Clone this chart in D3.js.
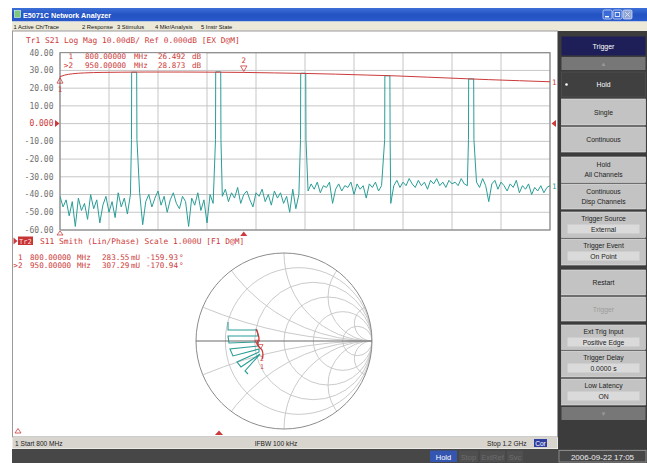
<!DOCTYPE html>
<html>
<head>
<meta charset="utf-8">
<script src="https://cdn.jsdelivr.net/npm/d3@7"></script>
<style>
  body { margin: 0; background: #fff; }
  svg { display: block; }
  .mono { font-family: "DejaVu Sans Mono", "Liberation Mono", monospace; }
  .ui { font-family: "Liberation Sans", "DejaVu Sans", sans-serif; }
</style>
</head>
<body>
<svg id="chart" width="647" height="463"></svg>
<script>
// ---- sweep / stimulus
const startMHz = 800;
const stopMHz = 1200;
const stepMHz = 2.5;

// ---- Tr1 (S21 log mag) axis
const yTickDb = [40, 30, 20, 10, 0, -10, -20, -30, -40, -50, -60];
const yTickLabels = ['40.00', '30.00', '20.00', '10.00', '0.000', '-10.00', '-20.00', '-30.00', '-40.00', '-50.00', '-60.00'];

// red trace
const redMHz = [800, 804, 810, 820, 835, 850, 870, 900, 930, 950, 975, 1000, 1025, 1050, 1075, 1100, 1125, 1150, 1175, 1200];
const redDb = [26.5, 27.4, 28.1, 28.6, 28.9, 29.0, 29.1, 29.1, 29.0, 28.87, 28.6, 28.3, 27.9, 27.4, 26.9, 26.2, 25.5, 24.8, 24.2, 23.6];

// teal trace: floor, one value every 2.5 MHz from 800 MHz
const noiseDb = [
  -41, -47, -43, -52, -44, -58, -42, -49, -45, -54, -40, -48, -43, -56, -46, -41, -50, -44, -53, -39, -47, -42, -51, -40,
  -44, -43, -39, -57, -44, -40, -47, -42, -38, -46, -41, -50, -43, -39, -45, -48, -41, -44, -58, -42, -46, -39, -49, -43, -56, -40, -45,
  -42, -41, -41, -37, -44, -39, -42, -36, -45, -40, -38, -43, -47, -39, -41, -37, -44, -40, -46, -38, -42, -39, -45, -41, -50, -37, -48, -40,
  -39, -38, -38, -34, -37, -33, -39, -35, -36, -33, -45, -37, -34, -38, -35, -36, -33, -40, -34, -37, -35, -42, -34, -36, -33, -38, -35,
  -36, -37, -45, -35, -32, -36, -33, -35, -31, -34, -36, -32, -35, -33, -37, -32, -34, -31, -35, -33, -36, -32, -34, -33, -35, -31, -34, -35,
  -35, -37, -33, -36, -31, -35, -44, -34, -32, -37, -33, -35, -38, -34, -36, -32, -39, -35, -37, -34, -40, -36, -38, -35, -39, -36, -35
];
// narrow tones on the teal trace
const peakMHz = [860.6, 929.2, 998.6, 1067.3, 1135.7];
const peakTopDb = [29.0, 29.2, 28.4, 27.0, 25.2];
const peakShoulderDb = [-9, -9, -9, -9, -9];

// markers
const markerIds = ['1', '>2'];
const markerMHz = [800, 950];
const markerFreqText = ['800.00000', '950.00000'];
const markerS21Text = ['26.492', '28.873'];
const markerMagText = ['283.55', '307.29'];
const markerPhaseText = ['-159.93', '-170.94'];
const markerMagU = [0.28355, 0.30729];
const markerPhaseDeg = [-159.93, -170.94];

// ---- Tr2 (S11 Smith)
const smithR = [0.2, 0.5, 1, 2, 5];
const smithX = [0.2, 0.5, 1, 2, 5];
const smithTealRe = [-0.636, -0.636, -0.307, -0.295, -0.636, -0.625, -0.295, -0.295, -0.614, -0.580, -0.284, -0.284, -0.534, -0.489, -0.273, -0.443, -0.409];
const smithTealIm = [0.216, 0.125, 0.125, 0.057, 0.057, -0.023, -0.011, -0.057, -0.091, -0.170, -0.091, -0.125, -0.239, -0.295, -0.148, -0.341, -0.375];
const smithRedRe = [-0.318, -0.295, -0.284, -0.307, -0.284, -0.250, -0.239, -0.250];
const smithRedIm = [0.136, 0.080, 0.023, -0.023, -0.068, -0.102, -0.159, -0.205];

// ---- UI texts
const menuItems = ['1 Active Ch/Trace', '2 Response', '3 Stimulus', '4 Mkr/Analysis', '5 Instr State'];
const softkeyLabels = [['Hold'], ['Single'], ['Continuous'], ['Hold', 'All Channels'], ['Continuous', 'Disp Channels'],
  ['Trigger Source'], ['Trigger Event'], ['Restart'], ['Trigger'], ['Ext Trig Input'], ['Trigger Delay'], ['Low Latency']];
const softkeyValues = [null, null, null, null, null, 'External', 'On Point', null, null, 'Positive Edge', '0.0000 s', 'ON'];
const statusItems = ['Hold', 'Stop', 'ExtRef', 'Svc'];

const RED = '#cc3a3a';
const TEAL = '#2a9d97';

const svg = d3.select('#chart');
const defs = svg.append('defs');

// ================= window chrome
const tg = defs.append('linearGradient').attr('id', 'titleGrad')
  .attr('x1', 0).attr('x2', 0).attr('y1', 0).attr('y2', 1);
tg.append('stop').attr('offset', '0%').attr('stop-color', '#3d6fd8');
tg.append('stop').attr('offset', '50%').attr('stop-color', '#2352c2');
tg.append('stop').attr('offset', '100%').attr('stop-color', '#2a5bcc');

svg.append('rect').attr('x', 12).attr('y', 8).attr('width', 635).attr('height', 13.5).attr('fill', 'url(#titleGrad)');
svg.append('rect').attr('x', 14.5).attr('y', 10.5).attr('width', 6).attr('height', 7).attr('fill', '#7fc77a').attr('stroke', '#dfe').attr('stroke-width', 0.6);
svg.append('text').attr('class', 'ui').attr('x', 23).attr('y', 18).attr('fill', '#fff')
  .attr('font-size', 7.2).attr('font-weight', 'bold').text('E5071C Network Analyzer');
[[603, '#3a6ad8'], [613, '#3a6ad8'], [623, '#8fa6d6']].forEach(([bx, c], i) => {
  svg.append('rect').attr('x', bx).attr('y', 10).attr('width', 9).attr('height', 9).attr('rx', 1.5)
    .attr('fill', c).attr('stroke', '#e8eefc').attr('stroke-width', 0.7);
  if (i === 0) svg.append('rect').attr('x', bx + 2).attr('y', 16).attr('width', 4).attr('height', 1.4).attr('fill', '#fff');
  if (i === 1) svg.append('rect').attr('x', bx + 2.2).attr('y', 12.5).attr('width', 4.5).attr('height', 4).attr('fill', 'none').attr('stroke', '#fff').attr('stroke-width', 0.8);
  if (i === 2) svg.append('path').attr('d', `M${bx + 2.2},12.2L${bx + 6.8},16.8M${bx + 6.8},12.2L${bx + 2.2},16.8`).attr('stroke', '#dfe6f6').attr('stroke-width', 0.9);
});

// menu bar
svg.append('rect').attr('x', 12).attr('y', 21.5).attr('width', 635).attr('height', 9.5).attr('fill', '#ece9d8');
const menuX = [13.5, 82, 117, 155, 201];
svg.selectAll('.menu').data(menuItems).join('text').attr('class', 'menu ui')
  .attr('x', (d, i) => menuX[i]).attr('y', 28.8).attr('font-size', 5.8).attr('fill', '#111').text(d => d);

// measurement area, softkey panel, status bars
svg.append('rect').attr('x', 12.5).attr('y', 31).attr('width', 545).attr('height', 406).attr('fill', '#fff').attr('stroke', '#9a9a9a').attr('stroke-width', 1);
svg.append('rect').attr('x', 558).attr('y', 31).attr('width', 89).attr('height', 418).attr('fill', '#3c3c3c');
svg.append('rect').attr('x', 12.5).attr('y', 437).attr('width', 545).attr('height', 11.5).attr('fill', '#d8d5cf');
svg.append('rect').attr('x', 12).attr('y', 449).attr('width', 635).attr('height', 14).attr('fill', '#474747');

// ================= Tr1 plot
const plot = { left: 60, right: 550, top: 52.7, bottom: 230 };
const x = d3.scaleLinear().domain([startMHz, stopMHz]).range([plot.left, plot.right]);
const y = d3.scaleLinear().domain([-60, 40]).range([plot.bottom, plot.top]);

const g1 = svg.append('g');
defs.append('clipPath').attr('id', 'clip1').append('rect')
  .attr('x', plot.left).attr('y', plot.top - 1).attr('width', plot.right - plot.left).attr('height', plot.bottom - plot.top + 2);

g1.selectAll('.vgrid').data(d3.range(startMHz, stopMHz + 1, 40)).join('line').attr('class', 'vgrid')
  .attr('x1', d => x(d)).attr('x2', d => x(d)).attr('y1', plot.top).attr('y2', plot.bottom)
  .attr('stroke', '#c6c6c6').attr('stroke-width', 1);
g1.selectAll('.hgrid').data(yTickDb).join('line').attr('class', 'hgrid')
  .attr('x1', plot.left).attr('x2', plot.right).attr('y1', d => y(d)).attr('y2', d => y(d))
  .attr('stroke', '#c6c6c6').attr('stroke-width', 1);
g1.append('rect').attr('x', plot.left).attr('y', plot.top).attr('width', plot.right - plot.left)
  .attr('height', plot.bottom - plot.top).attr('fill', 'none').attr('stroke', '#8a8a8a').attr('stroke-width', 1.2);

g1.selectAll('.ylab').data(yTickDb).join('text').attr('class', 'ylab mono')
  .attr('x', 53.5).attr('y', d => y(d) + 2.8).attr('text-anchor', 'end').attr('font-size', 8)
  .attr('fill', d => (d === 0 ? RED : '#707070')).text((d, i) => yTickLabels[i]);
g1.append('path').attr('d', `M55,${y(0) - 3.5}L59.5,${y(0)}L55,${y(0) + 3.5}Z`).attr('fill', RED);
g1.append('path').attr('d', `M556,${y(0) - 3.5}L551.5,${y(0)}L556,${y(0) + 3.5}Z`).attr('fill', RED);

svg.append('text').attr('class', 'mono').attr('x', 26).attr('y', 43).attr('font-size', 7.9).attr('fill', RED)
  .text('Tr1 S21 Log Mag 10.00dB/ Ref 0.000dB [EX D@M]');

// teal trace points
const tealPts = noiseDb.map((v, i) => [startMHz + i * stepMHz, v])
  .filter(p => peakMHz.every(f => Math.abs(p[0] - f) > 2.3));
peakMHz.forEach((f, k) => {
  tealPts.push([f - 2.25, peakShoulderDb[k]], [f - 2.1, peakTopDb[k]], [f + 2.0, peakTopDb[k]], [f + 2.2, peakShoulderDb[k]]);
});
tealPts.sort((a, b) => a[0] - b[0]);

const line1 = d3.line().x(d => x(d[0])).y(d => y(d[1]));
const traces = g1.append('g').attr('clip-path', 'url(#clip1)');
traces.append('path').datum(tealPts).attr('d', line1).attr('fill', 'none').attr('stroke', TEAL).attr('stroke-width', 1);
traces.append('path').datum(redMHz.map((f, i) => [f, redDb[i]]))
  .attr('d', line1.curve(d3.curveMonotoneX)).attr('fill', 'none').attr('stroke', RED).attr('stroke-width', 1);

// marker readout
g1.append('rect').attr('x', 61).attr('y', 53.5).attr('width', 145).attr('height', 14.5).attr('fill', '#fff');
const rd1 = g1.selectAll('.rd1').data(markerIds).join('g').attr('class', 'rd1 mono')
  .attr('transform', (d, i) => `translate(0,${59.3 + i * 8.4})`).attr('fill', RED).attr('font-size', 7.6);
rd1.append('text').attr('x', 73).attr('text-anchor', 'end').text(d => d);
rd1.append('text').attr('x', 85).text((d, i) => markerFreqText[i]);
rd1.append('text').attr('x', 134).text('MHz');
rd1.append('text').attr('x', 158).text((d, i) => markerS21Text[i]);
rd1.append('text').attr('x', 192).text('dB');

// marker symbols on Tr1
const redAt = f => d3.scaleLinear().domain(redMHz).range(redDb)(f);
const m2x = x(markerMHz[1]), m2y = y(redAt(markerMHz[1]));
g1.append('path').attr('d', `M${m2x - 3.2},${m2y - 6.5}L${m2x + 3.2},${m2y - 6.5}L${m2x},${m2y - 1}Z`)
  .attr('fill', 'none').attr('stroke', RED).attr('stroke-width', 0.8);
g1.append('text').attr('class', 'mono').attr('x', m2x).attr('y', m2y - 9).attr('text-anchor', 'middle')
  .attr('font-size', 7.5).attr('fill', RED).text('2');
const m1x = x(markerMHz[0]), m1y = y(redAt(markerMHz[0]));
g1.append('path').attr('d', `M${m1x},${m1y + 1}L${m1x + 3},${m1y + 6.5}L${m1x - 3},${m1y + 6.5}Z`)
  .attr('fill', 'none').attr('stroke', RED).attr('stroke-width', 0.8);
g1.append('text').attr('class', 'mono').attr('x', m1x).attr('y', m1y + 15).attr('text-anchor', 'middle')
  .attr('font-size', 7.5).attr('fill', RED).text('1');
g1.append('text').attr('class', 'mono').attr('x', 552).attr('y', y(redDb[redDb.length - 1]) + 3)
  .attr('font-size', 7.5).attr('fill', RED).text('1');
g1.append('text').attr('class', 'mono').attr('x', 552).attr('y', y(noiseDb[noiseDb.length - 1]) + 3)
  .attr('font-size', 7.5).attr('fill', TEAL).text('1');
// stimulus markers below
g1.append('path').attr('d', `M${x(startMHz) - 3},235L${x(startMHz) + 3},235L${x(startMHz)},231Z`)
  .attr('fill', 'none').attr('stroke', RED).attr('stroke-width', 0.8);
g1.append('path').attr('d', `M${m2x - 3.5},236L${m2x + 3.5},236L${m2x},231.5Z`).attr('fill', RED);

// ================= Tr2 Smith
svg.append('path').attr('d', 'M13.5,237.5L17.5,241L13.5,244.5Z').attr('fill', RED);
svg.append('rect').attr('x', 18).attr('y', 236.5).attr('width', 15).attr('height', 8.5).attr('fill', '#c63434');
svg.append('text').attr('class', 'mono').attr('x', 19).attr('y', 243.5).attr('font-size', 7).attr('fill', '#ffdede').text('Tr2');
svg.append('text').attr('class', 'mono').attr('x', 40).attr('y', 244).attr('font-size', 7.9).attr('fill', RED)
  .text('S11 Smith (Lin/Phase) Scale 1.000U [F1 D@M]');

const rd2 = svg.selectAll('.rd2').data(markerIds).join('g').attr('class', 'rd2 mono')
  .attr('transform', (d, i) => `translate(0,${259.8 + i * 8.4})`).attr('fill', RED).attr('font-size', 7.6);
rd2.append('text').attr('x', 22.5).attr('text-anchor', 'end').text(d => d);
rd2.append('text').attr('x', 30).text((d, i) => markerFreqText[i]);
rd2.append('text').attr('x', 77).text('MHz');
rd2.append('text').attr('x', 102).text((d, i) => markerMagText[i]);
rd2.append('text').attr('x', 131).text('mU');
rd2.append('text').attr('x', 146).text((d, i) => markerPhaseText[i]);
rd2.append('text').attr('x', 179).text('°');

const sc = { cx: 284, cy: 341, r: 88 };
const sx = d3.scaleLinear().domain([-1, 1]).range([sc.cx - sc.r, sc.cx + sc.r]);
const sy = d3.scaleLinear().domain([-1, 1]).range([sc.cy + sc.r, sc.cy - sc.r]);
const unit = sx(1) - sx(0);

defs.append('clipPath').attr('id', 'clipSmith').append('circle').attr('cx', sx(0)).attr('cy', sy(0)).attr('r', unit);
const g2 = svg.append('g');
const grid2 = g2.append('g').attr('clip-path', 'url(#clipSmith)').attr('fill', 'none').attr('stroke', '#c4c4c4').attr('stroke-width', 0.9);
grid2.selectAll('.rc').data(smithR).join('circle').attr('class', 'rc')
  .attr('cx', d => sx(d / (1 + d))).attr('cy', sy(0)).attr('r', d => unit / (1 + d));
grid2.selectAll('.xc').data(smithX.flatMap(v => [v, -v])).join('circle').attr('class', 'xc')
  .attr('cx', sx(1)).attr('cy', d => sy(1 / d)).attr('r', d => unit / Math.abs(d));
g2.append('circle').attr('cx', sx(0)).attr('cy', sy(0)).attr('r', unit).attr('fill', 'none').attr('stroke', '#8c8c8c').attr('stroke-width', 1);
g2.append('line').attr('x1', sx(-1)).attr('x2', sx(1)).attr('y1', sy(0)).attr('y2', sy(0)).attr('stroke', '#6a6a6a').attr('stroke-width', 1);

const lineS = d3.line().x(d => sx(d[0])).y(d => sy(d[1]));
g2.append('path').datum(smithTealRe.map((r, i) => [r, smithTealIm[i]])).attr('d', lineS)
  .attr('fill', 'none').attr('stroke', TEAL).attr('stroke-width', 1.1);
g2.append('path').datum(smithRedRe.map((r, i) => [r, smithRedIm[i]])).attr('d', lineS.curve(d3.curveMonotoneY))
  .attr('fill', 'none').attr('stroke', RED).attr('stroke-width', 1.3);

markerMagU.forEach((m, i) => {
  const a = markerPhaseDeg[i] * Math.PI / 180;
  const px = sx(m * Math.cos(a)), py = sy(m * Math.sin(a));
  g2.append('path').attr('d', `M${px - 2.5},${py - 5}L${px + 2.5},${py - 5}L${px},${py - 0.5}Z`)
    .attr('fill', 'none').attr('stroke', RED).attr('stroke-width', 0.7);
});
g2.append('text').attr('class', 'mono').attr('x', 262).attr('y', 361).attr('text-anchor', 'middle').attr('font-size', 6.5).attr('fill', RED).text('2');
g2.append('text').attr('class', 'mono').attr('x', 262).attr('y', 369).attr('text-anchor', 'middle').attr('font-size', 6.5).attr('fill', RED).text('1');

svg.append('path').attr('d', 'M15,433L21,433L18,428.5Z').attr('fill', 'none').attr('stroke', RED).attr('stroke-width', 0.8);
svg.append('path').attr('d', 'M215,435L223,435L219,430.5Z').attr('fill', RED);

// ================= status bar
const st = svg.append('g').attr('class', 'ui').attr('font-size', 6.6).attr('fill', '#222');
st.append('text').attr('x', 15).attr('y', 445.5).text('1 Start 800 MHz');
st.append('text').attr('x', 276).attr('y', 445.5).attr('text-anchor', 'middle').text('IFBW 100 kHz');
st.append('text').attr('x', 487).attr('y', 445.5).text('Stop 1.2 GHz');
st.append('rect').attr('x', 534).attr('y', 439).attr('width', 13).attr('height', 8).attr('fill', '#2f3f9f');
st.append('text').attr('x', 540.5).attr('y', 445.5).attr('text-anchor', 'middle').attr('fill', '#fff').text('Cor');

const boxX = [430, 459, 480, 507];
const boxW = [27, 19, 25, 16];
const sb = svg.selectAll('.sb').data(statusItems).join('g').attr('class', 'sb ui');
sb.append('rect').attr('x', (d, i) => boxX[i]).attr('y', 450.5).attr('width', (d, i) => boxW[i]).attr('height', 11.5)
  .attr('fill', (d, i) => (i === 0 ? '#3556b0' : '#4f4f4f'));
sb.append('text').attr('x', (d, i) => boxX[i] + boxW[i] / 2).attr('y', 459.5).attr('text-anchor', 'middle')
  .attr('font-size', 7.5).attr('fill', (d, i) => (i === 0 ? '#fff' : '#6c6c6c')).text(d => d);
svg.append('rect').attr('x', 559).attr('y', 450.5).attr('width', 87).attr('height', 11.5).attr('fill', 'none').attr('stroke', '#9a9a9a').attr('stroke-width', 0.8);
svg.append('text').attr('class', 'ui').attr('x', 602.5).attr('y', 459.8).attr('text-anchor', 'middle').attr('font-size', 8).attr('fill', '#eee').text('2006-09-22 17:05');

// ================= softkey panel
const sk = { x: 561.5, w: 84 };
svg.append('rect').attr('x', sk.x).attr('y', 36.5).attr('width', sk.w).attr('height', 19).attr('fill', '#1e1e58');
svg.append('text').attr('class', 'ui').attr('x', sk.x + sk.w / 2).attr('y', 48.5).attr('text-anchor', 'middle')
  .attr('font-size', 7).attr('fill', '#fff').text('Trigger');
[[57, 13, '▲'], [407, 13, '▼']].forEach(([ty, th, ch]) => {
  svg.append('rect').attr('x', sk.x).attr('y', ty).attr('width', sk.w).attr('height', th).attr('fill', '#777');
  svg.append('text').attr('class', 'ui').attr('x', sk.x + sk.w / 2).attr('y', ty + 9).attr('text-anchor', 'middle')
    .attr('font-size', 6).attr('fill', '#9a9a9a').text(ch);
});
const skTop = [72, 99, 127, 157, 184, 212, 239, 270, 297, 325, 351, 379];
const skH = [25, 26, 25, 25.5, 25, 25.5, 26, 25, 24, 24.5, 26, 26];
const keys = svg.selectAll('.sk').data(softkeyLabels).join('g').attr('class', 'sk ui')
  .attr('transform', (d, i) => `translate(${sk.x},${skTop[i]})`);
keys.append('rect').attr('width', sk.w).attr('height', (d, i) => skH[i])
  .attr('fill', (d, i) => (i === 0 ? '#404040' : '#c3c3c3')).attr('stroke', (d, i) => (i === 0 ? '#555' : '#e4e4e4')).attr('stroke-width', 0.6);
keys.each(function (d, i) {
  const k = d3.select(this);
  const h = skH[i];
  const color = i === 0 ? '#fff' : (i === 8 ? '#9c9c9c' : '#222');
  if (softkeyValues[i]) {
    k.append('text').attr('x', sk.w / 2).attr('y', 9).attr('text-anchor', 'middle').attr('font-size', 6.8).attr('fill', color).text(d[0]);
    k.append('rect').attr('x', 6).attr('y', 12.5).attr('width', sk.w - 12).attr('height', 9).attr('fill', '#dadada');
    k.append('text').attr('x', sk.w / 2).attr('y', 20).attr('text-anchor', 'middle').attr('font-size', 6.8).attr('fill', color).text(softkeyValues[i]);
  } else if (d.length === 2) {
    k.append('text').attr('x', sk.w / 2).attr('y', 10).attr('text-anchor', 'middle').attr('font-size', 6.8).attr('fill', color).text(d[0]);
    k.append('text').attr('x', sk.w / 2).attr('y', 20).attr('text-anchor', 'middle').attr('font-size', 6.8).attr('fill', color).text(d[1]);
  } else {
    k.append('text').attr('x', sk.w / 2).attr('y', h / 2 + 2.5).attr('text-anchor', 'middle').attr('font-size', 6.8).attr('fill', color).text(d[0]);
  }
  if (i === 0) k.append('circle').attr('cx', 5).attr('cy', h / 2).attr('r', 1.3).attr('fill', '#fff');
});
</script>
</body>
</html>
